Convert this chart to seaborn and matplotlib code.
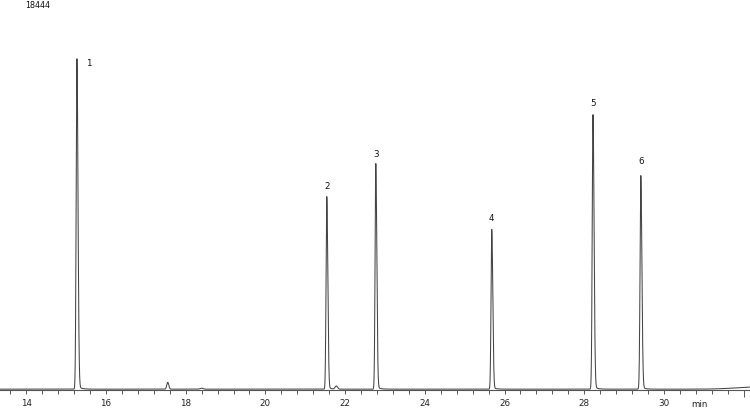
import numpy as np
import pandas as pd
import matplotlib
matplotlib.use("Agg")
import matplotlib.pyplot as plt
from matplotlib.ticker import MultipleLocator, FixedLocator, FixedFormatter
import seaborn as sns

# peak table (retention time in min, height in counts)
peak_rt = [15.27, 21.54, 22.77, 25.68, 28.22, 29.42]
peak_height = [15860, 9245, 10830, 7665, 13175, 10250]
peak_names = ["1", "2", "3", "4", "5", "6"]
peak_sigma = [0.019, 0.018, 0.018, 0.018, 0.019, 0.019]

# small unlabelled peaks / baseline features
minor_rt = [17.55, 18.40, 21.78, 32.40]
minor_height = [330, 45, 150, 110]
minor_sigma = [0.025, 0.04, 0.03, 0.55]

max_counts = "18444"
time_min, time_max = 13.34, 32.16

sns.set_style("white")
plt.rcParams['font.family'] = ['DejaVu Sans']


def build_trace():
    t = np.arange(time_min, time_max, 0.0015)
    y = np.zeros_like(t)
    for rt, h, s in zip(peak_rt, peak_height, peak_sigma):
        # slightly tailing peak: wider on the right side plus a short tail
        sig = np.where(t < rt, s, s * 1.4)
        y += h * np.exp(-0.5 * ((t - rt) / sig) ** 2)
        tail = np.where(t > rt, np.exp(-(t - rt) / 0.08), 0.0)
        y += 0.012 * h * tail * (1 - np.exp(-((t - rt) / (2 * s)) ** 2))
    for rt, h, s in zip(minor_rt, minor_height, minor_sigma):
        y += h * np.exp(-0.5 * ((t - rt) / s) ** 2)
    return pd.DataFrame({"time": t, "signal": y})


df = build_trace()

fig = plt.figure(figsize=(7.5, 4.08), dpi=100)
ax = fig.add_axes([0, 18 / 408, 1, 390 / 408])
sns.lineplot(data=df, x="time", y="signal", ax=ax, color="#444444",
             linewidth=0.75, estimator=None, sort=False)

ax.set_xlim(time_min, time_max)
ax.set_ylim(-40, 18680)
ax.set_xlabel("")
ax.set_ylabel("")
ax.set_yticks([])
for side in ["left", "right", "top"]:
    ax.spines[side].set_visible(False)
ax.spines["bottom"].set_color("#555555")
ax.spines["bottom"].set_linewidth(0.8)

major = [14, 16, 18, 20, 22, 24, 26, 28, 30, 32]
ax.xaxis.set_major_locator(FixedLocator(major))
ax.xaxis.set_major_formatter(FixedFormatter([str(m) for m in major[:-1]] + [""]))
ax.xaxis.set_minor_locator(MultipleLocator(0.4))
ax.tick_params(axis="x", which="both", bottom=True, direction="out", length=3.2,
               width=0.7, color="#555555", labelsize=6.3, labelcolor="#222222",
               pad=3.5)
last = ax.xaxis.get_major_ticks()[-1]
last.tick1line.set_markersize(5)
last.tick2line.set_visible(False)

ax.annotate("min", xy=(30.88, 0), xycoords=("data", "axes fraction"),
            xytext=(0, -10.2), textcoords="offset points", ha="center", va="center",
            fontsize=6.3, color="#222222")

fig.text(25 / 750, 1 - 5 / 408, max_counts, ha="left", va="center",
         fontsize=5.8, color="#111111")

label_offsets = [(8.6, -3.6), (0, 7.2), (0, 6.5), (0, 7.9), (0, 7.9), (0, 10)]
for rt, h, name, off in zip(peak_rt, peak_height, peak_names, label_offsets):
    ax.annotate(name, xy=(rt, h), xytext=off, textcoords="offset points",
                ha="center", va="center", fontsize=6.3, color="#111111")

fig.savefig("out.png", dpi=100)
